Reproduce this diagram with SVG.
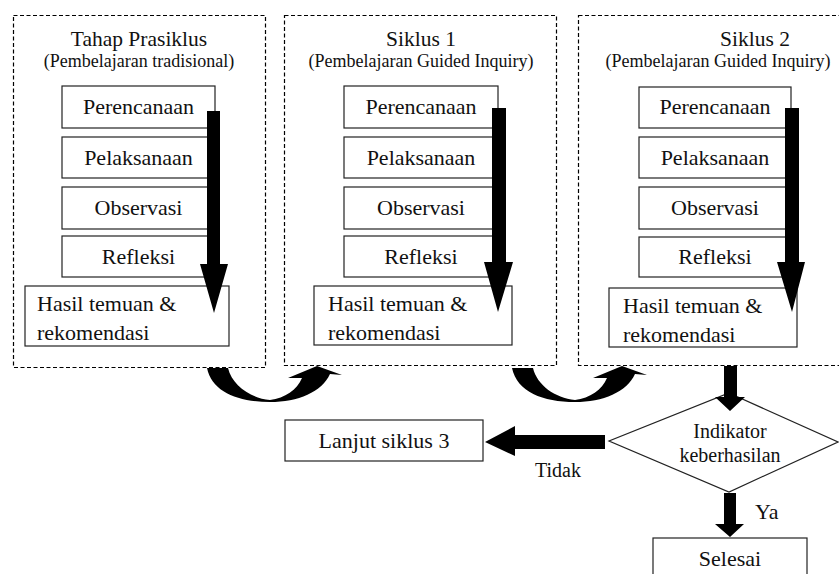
<svg xmlns="http://www.w3.org/2000/svg" width="839" height="574" viewBox="0 0 839 574">
<style>
.dash{fill:none;stroke:#000;stroke-width:1.2;stroke-dasharray:4 2.5}
.box{fill:#fff;stroke:#222;stroke-width:1.2}
text{font-family:'Liberation Serif','DejaVu Serif',serif;fill:#111}
.t22{font-size:22px}
.tt{font-size:21.5px}
.t18{font-size:18px}
.t20{font-size:20px}
.c{text-anchor:middle}
.arr{fill:#000;stroke:none}
</style>
<rect width="839" height="574" fill="#fff"/>

<g id="prasiklus" font-family="Liberation Serif, serif">
  <rect class="dash" x="13.5" y="15.5" width="252" height="352"/>
  <text class="tt c" x="139" y="46">Tahap Prasiklus</text>
  <text class="t18 c" x="139" y="67">(Pembelajaran tradisional)</text>
  <rect class="box" x="62" y="86" width="153" height="42"/>
  <text class="t22 c" x="138.5" y="114">Perencanaan</text>
  <rect class="box" x="62" y="137" width="153" height="41"/>
  <text class="t22 c" x="138.5" y="165">Pelaksanaan</text>
  <rect class="box" x="62" y="187" width="153" height="42"/>
  <text class="t22 c" x="138.5" y="215">Observasi</text>
  <rect class="box" x="62" y="236" width="153" height="41"/>
  <text class="t22 c" x="138.5" y="264">Refleksi</text>
  <rect class="box" x="25" y="286" width="204" height="60"/>
  <text class="t22" x="37" y="311">Hasil temuan &amp;</text>
  <text class="t22" x="37" y="340">rekomendasi</text>
  <polygon class="arr" points="207,111 220,111 220,264 228,264 214,313 200,264 207,264"/>
</g>

<g id="siklus1" font-family="Liberation Serif, serif">
  <rect class="dash" x="284.5" y="15.5" width="272" height="350"/>
  <text class="tt c" x="421" y="46">Siklus 1</text>
  <text class="t18 c" x="421" y="67">(Pembelajaran Guided Inquiry)</text>
  <rect class="box" x="344" y="86" width="154" height="42"/>
  <text class="t22 c" x="421" y="114">Perencanaan</text>
  <rect class="box" x="344" y="137" width="154" height="41"/>
  <text class="t22 c" x="421" y="165">Pelaksanaan</text>
  <rect class="box" x="344" y="187" width="154" height="42"/>
  <text class="t22 c" x="421" y="215">Observasi</text>
  <rect class="box" x="344" y="236" width="154" height="41"/>
  <text class="t22 c" x="421" y="264">Refleksi</text>
  <rect class="box" x="314" y="286" width="198" height="59"/>
  <text class="t22" x="328" y="311">Hasil temuan &amp;</text>
  <text class="t22" x="328" y="340">rekomendasi</text>
  <polygon class="arr" points="492,108 506,108 506,262 513,262 498,312 484,262 492,262"/>
</g>

<g id="siklus2" font-family="Liberation Serif, serif">
  <rect class="dash" x="578.5" y="15.5" width="275" height="350"/>
  <text class="tt c" x="755" y="46">Siklus 2</text>
  <text class="t18 c" x="718" y="67">(Pembelajaran Guided Inquiry)</text>
  <rect class="box" x="639" y="87" width="152" height="41"/>
  <text class="t22 c" x="715" y="114">Perencanaan</text>
  <rect class="box" x="639" y="137" width="152" height="41"/>
  <text class="t22 c" x="715" y="165">Pelaksanaan</text>
  <rect class="box" x="639" y="187" width="152" height="42"/>
  <text class="t22 c" x="715" y="215">Observasi</text>
  <rect class="box" x="639" y="237" width="152" height="40"/>
  <text class="t22 c" x="715" y="264">Refleksi</text>
  <rect class="box" x="609" y="288" width="188" height="59"/>
  <text class="t22" x="623" y="313">Hasil temuan &amp;</text>
  <text class="t22" x="623" y="342">rekomendasi</text>
  <polygon class="arr" points="785,108 799,108 799,262 805,262 792,312 777,262 785,262"/>
</g>

<g id="indikator" font-family="Liberation Serif, serif">
  <polygon class="box" points="729,393 838,442 729,492 609,441"/>
  <text class="t20 c" x="730" y="438">Indikator</text>
  <text class="t20 c" x="730" y="462">keberhasilan</text>
</g>

<g id="lanjut" font-family="Liberation Serif, serif">
  <rect class="box" x="285" y="420" width="198" height="41"/>
  <text class="t22 c" x="384" y="448">Lanjut siklus 3</text>
</g>

<g id="selesai" font-family="Liberation Serif, serif">
  <rect class="box" x="653" y="538" width="154" height="45"/>
  <text class="t22 c" x="730" y="566">Selesai</text>
</g>

<g id="connectors" font-family="Liberation Serif, serif">
  <path id="curve1" class="arr" d="M207,368 L228,368 C232,385 250,398 270,400 C285,398 297,390 302,378 L288,378 L317,366 L342,375 L330,374 C322,392 298,402 270,402 C238,402 212,392 207,368 Z"/>
  <path id="curve2" class="arr" transform="translate(305,0)" d="M207,368 L228,368 C232,385 250,398 270,400 C285,398 297,390 302,378 L288,378 L317,366 L342,375 L330,374 C322,392 298,402 270,402 C238,402 212,392 207,368 Z"/>
  <polygon class="arr" points="724,366 737,366 737,397 745,397 730,411 715,397 724,397"/>
  <polygon class="arr" points="605,435 605,449 515,449 515,456 485,442 515,426 515,435"/>
  <text class="t20 c" x="558" y="477">Tidak</text>
  <polygon class="arr" points="724,493 736,493 736,524 744,524 730,537 715,524 724,524"/>
  <text class="t22" x="755" y="519">Ya</text>
</g>
</svg>
